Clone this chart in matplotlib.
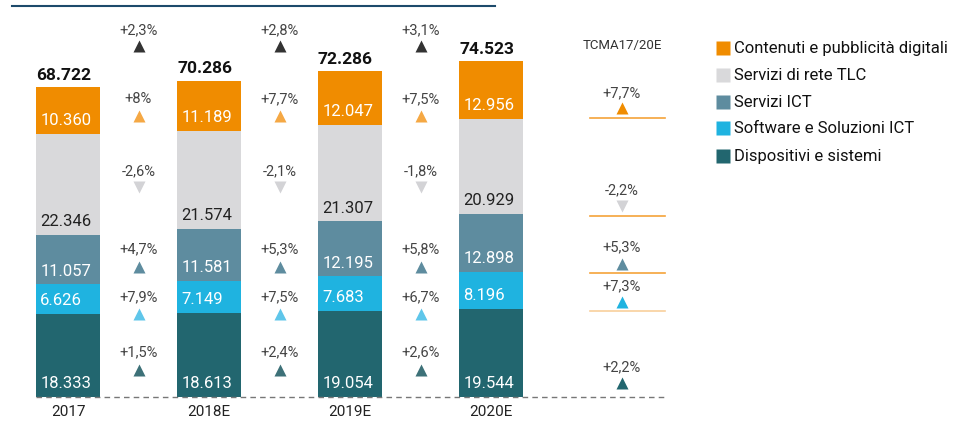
import matplotlib
matplotlib.use("Agg")
import matplotlib.pyplot as plt
import numpy as np

plt.rcParams['font.family'] = ['Roboto', 'DejaVu Sans']

# Data (milioni di euro)
years = ['2017', '2018E', '2019E', '2020E']
dispositivi = [18333, 18613, 19054, 19544]
software = [6626, 7149, 7683, 8196]
servizi_ict = [11057, 11581, 12195, 12898]
rete_tlc = [22346, 21574, 21307, 20929]
contenuti = [10360, 11189, 12047, 12956]
totals = [68722, 70286, 72286, 74523]

series_names = ['Dispositivi e sistemi', 'Software e Soluzioni ICT', 'Servizi ICT',
                'Servizi di rete TLC', 'Contenuti e pubblicità digitali']
series_colors = ['#22666f', '#1fb3e0', '#5e8c9f', '#d9d9db', '#f08c00']
label_colors = ['white', 'white', 'white', '#222222', 'white']
tri_colors = ['#3d7178', '#5fc6ea', '#5e8c9f', '#d3d3d6', '#f5a844']

# year-over-year growth, bottom series first, then total
growth_disp = ['+1,5%', '+2,4%', '+2,6%']
growth_sw = ['+7,9%', '+7,5%', '+6,7%']
growth_ict = ['+4,7%', '+5,3%', '+5,8%']
growth_tlc = ['-2,6%', '-2,1%', '-1,8%']
growth_cont = ['+8%', '+7,7%', '+7,5%']
growth_tot = ['+2,3%', '+2,8%', '+3,1%']

# compound annual growth 2017-2020E
tcma = ['+2,2%', '+7,3%', '+5,3%', '-2,2%', '+7,7%']

W, H = 962, 421
fig = plt.figure(figsize=(W / 100, H / 100), dpi=100)
ax = fig.add_axes([0, 0, 1, 1])

# map pixel layout to data units
px_per_cat = 141.0
x0_px = 68.0
base_px = 397.0
px_per_unit = 4.51 / 1000
ax.set_xlim(-x0_px / px_per_cat, (W - x0_px) / px_per_cat)
ax.set_ylim(-(H - base_px) / px_per_unit, base_px / px_per_unit)
ax.axis('off')


def xd(px):
    return (px - x0_px) / px_per_cat


def yd(px):
    # px measured from top of image
    return (base_px - px) / px_per_unit


def fmt(v):
    return f"{v:,}".replace(',', '.')


x = np.arange(len(years))
width = 64 / px_per_cat
stack = [dispositivi, software, servizi_ict, rete_tlc, contenuti]
bottom = np.zeros(len(years))
for vals, col, lcol in zip(stack, series_colors, label_colors):
    ax.bar(x, vals, width, bottom=bottom, color=col, edgecolor='none')
    for i, v in enumerate(vals):
        ax.text(x[i] - width / 2 + 0.03, bottom[i] + 1300, fmt(v), color=lcol,
                fontsize=12, ha='left', va='bottom')
    bottom += np.array(vals)

for i, t in enumerate(totals):
    ax.text(x[i] - width / 2, t + 900, fmt(t), fontsize=12.5, fontweight='bold',
            ha='left', va='bottom', color='#111111')

for i, yr in enumerate(years):
    ax.text(x[i], yd(412), yr, fontsize=11, ha='center', va='center', color='#222222')

# baseline
ax.plot([xd(36), xd(665)], [0, 0], ls=(0, (4, 3)), color='#777777', lw=1)

# growth between bars
growth_rows = [
    (growth_tot, '#333333', '^', 30, 46),
    (growth_cont, tri_colors[4], '^', 99, 116),
    (growth_tlc, tri_colors[3], 'v', 171, 187),
    (growth_ict, tri_colors[2], '^', 249, 267),
    (growth_sw, tri_colors[1], '^', 297, 314),
    (growth_disp, tri_colors[0], '^', 352, 370),
]
for labels, col, mk, ly, ty in growth_rows:
    for i, lab in enumerate(labels):
        xm = i + 0.5
        ax.text(xm, yd(ly), lab, fontsize=10.5, ha='center', va='center', color='#444444')
        ax.plot(xm, yd(ty), marker=mk, ms=9, color=col, mec='none', ls='none')

# TCMA column
xt = xd(622)
ax.text(xt, yd(45), 'TCMA17/20E', fontsize=9.5, ha='center', va='center', color='#333333')
tcma_pos = [(367, 383, '^', '#22666f'), (286, 302, '^', '#1fb3e0'),
            (247, 264, '^', '#5e8c9f'), (190, 206, 'v', '#d3d3d6'),
            (93, 108, '^', '#f08c00')]
for lab, (ly, ty, mk, col) in zip(tcma, tcma_pos):
    ax.text(xt, yd(ly), lab, fontsize=10.5, ha='center', va='center', color='#444444')
    ax.plot(xt, yd(ty), marker=mk, ms=9, color=col, mec='none', ls='none')
for ly, col in [(118, '#f5a33a'), (216, '#f5a33a'), (273, '#f5a33a'), (311, '#f8cf9c')]:
    ax.plot([xd(590), xd(665)], [yd(ly), yd(ly)], color=col, lw=1.2)

# legend
legend_y = [48, 75, 102, 128, 156]
for name, col, ly in zip(series_names[::-1], series_colors[::-1], legend_y):
    ax.plot(xd(723), yd(ly), marker='s', ms=9.5, color=col, mec='none', ls='none')
    ax.text(xd(734), yd(ly), name, fontsize=12, ha='left', va='center', color='#111111')

# top rule
ax.plot([xd(12), xd(495)], [yd(6), yd(6)], color='#1d4a6b', lw=1.5, clip_on=False)

fig.savefig('out.png', dpi=100)
